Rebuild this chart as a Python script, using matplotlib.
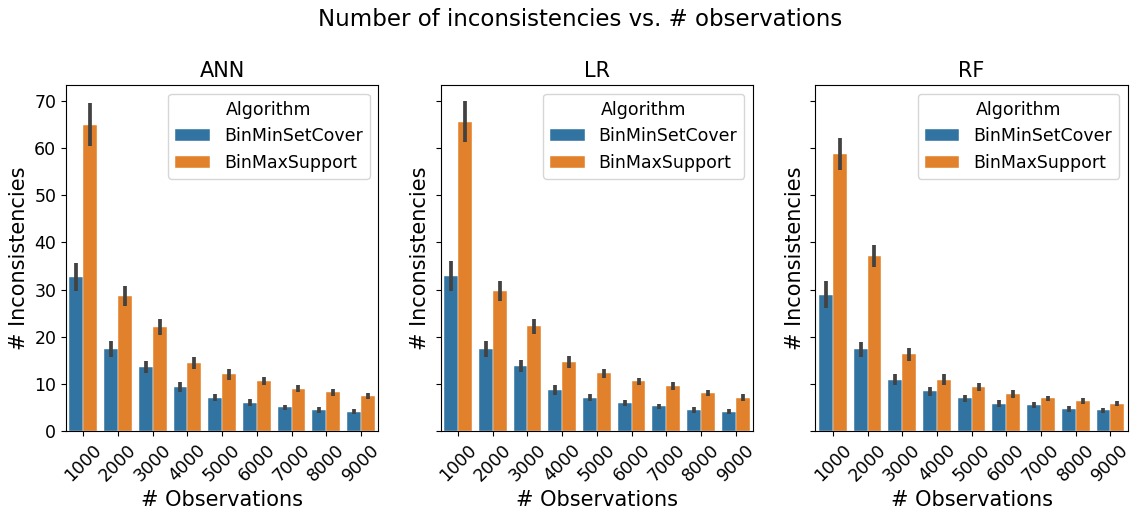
import matplotlib
matplotlib.use("Agg")
import matplotlib.pyplot as plt
import numpy as np

observations = ["1000", "2000", "3000", "4000", "5000", "6000", "7000", "8000", "9000"]
models = ["ANN", "LR", "RF"]
algorithms = ["BinMinSetCover", "BinMaxSupport"]

# mean values
ann_minsetcover = [32.7, 17.4, 13.6, 9.3, 7.1, 6.0, 5.0, 4.4, 4.1]
ann_maxsupport = [65.0, 28.7, 22.0, 14.4, 12.0, 10.6, 9.0, 8.2, 7.4]
lr_minsetcover = [32.9, 17.3, 13.8, 8.7, 7.1, 6.0, 5.2, 4.4, 4.1]
lr_maxsupport = [65.6, 29.7, 22.2, 14.6, 12.2, 10.5, 9.5, 8.1, 7.1]
rf_minsetcover = [28.9, 17.3, 10.9, 8.4, 6.9, 5.8, 5.5, 4.7, 4.4]
rf_maxsupport = [58.8, 37.1, 16.3, 10.9, 9.3, 7.9, 6.9, 6.3, 5.8]

# confidence-interval half widths
ann_minsetcover_ci = [3.0, 1.7, 1.2, 1.0, 0.8, 0.7, 0.6, 0.6, 0.5]
ann_maxsupport_ci = [4.5, 2.1, 1.7, 1.3, 1.1, 0.9, 0.7, 0.7, 0.7]
lr_minsetcover_ci = [3.1, 1.7, 1.2, 1.0, 0.8, 0.6, 0.6, 0.6, 0.5]
lr_maxsupport_ci = [4.4, 2.2, 1.6, 1.3, 1.0, 0.8, 0.8, 0.7, 0.7]
rf_minsetcover_ci = [2.9, 1.6, 1.2, 0.9, 0.8, 0.7, 0.6, 0.6, 0.5]
rf_maxsupport_ci = [3.4, 2.3, 1.4, 1.1, 0.9, 0.8, 0.6, 0.6, 0.5]

data = {
    "ANN": [(ann_minsetcover, ann_minsetcover_ci), (ann_maxsupport, ann_maxsupport_ci)],
    "LR": [(lr_minsetcover, lr_minsetcover_ci), (lr_maxsupport, lr_maxsupport_ci)],
    "RF": [(rf_minsetcover, rf_minsetcover_ci), (rf_maxsupport, rf_maxsupport_ci)],
}

colors = ["#3274a1", "#e1812c"]

fig = plt.figure(figsize=(11.3, 5.08), dpi=100)
axes = fig.subplots(1, 3, sharey=True)
fig.subplots_adjust(left=0.0584, right=0.998, top=0.8327, bottom=0.1516, wspace=0.2)

x = np.arange(len(observations))
w = 0.4
for ax, model in zip(axes, models):
    for k, (alg, (vals, ci)) in enumerate(zip(algorithms, data[model])):
        pos = x - w / 2 + k * w
        ax.bar(pos, vals, width=w, color=colors[k], label=alg, edgecolor="white", linewidth=0.3)
        vals_a = np.array(vals)
        ci_a = np.array(ci)
        ax.vlines(pos, vals_a - ci_a, vals_a + ci_a, color="#424242", linewidth=2.7, zorder=3)
    ax.set_xlim(-0.5, len(observations) - 0.5)
    ax.set_ylim(0, 73.4)
    ax.set_xticks(x)
    ax.set_xticklabels(observations, rotation=45, fontsize=12.5)
    ax.tick_params(axis="y", labelsize=12.5)
    ax.set_title(model, fontsize=15)
    ax.set_xlabel("# Observations", fontsize=15)
    ax.set_ylabel("# Inconsistencies", fontsize=15)
    ax.yaxis.set_tick_params(labelleft=(model == "ANN"))
    ax.legend(title="Algorithm", fontsize=12.5, title_fontsize=12.5, loc="upper right")

axes[0].set_yticks([0, 10, 20, 30, 40, 50, 60, 70])
fig.suptitle("Number of inconsistencies vs. # observations", fontsize=16.5, x=0.513, y=0.985)

fig.savefig("out.png", dpi=100)
